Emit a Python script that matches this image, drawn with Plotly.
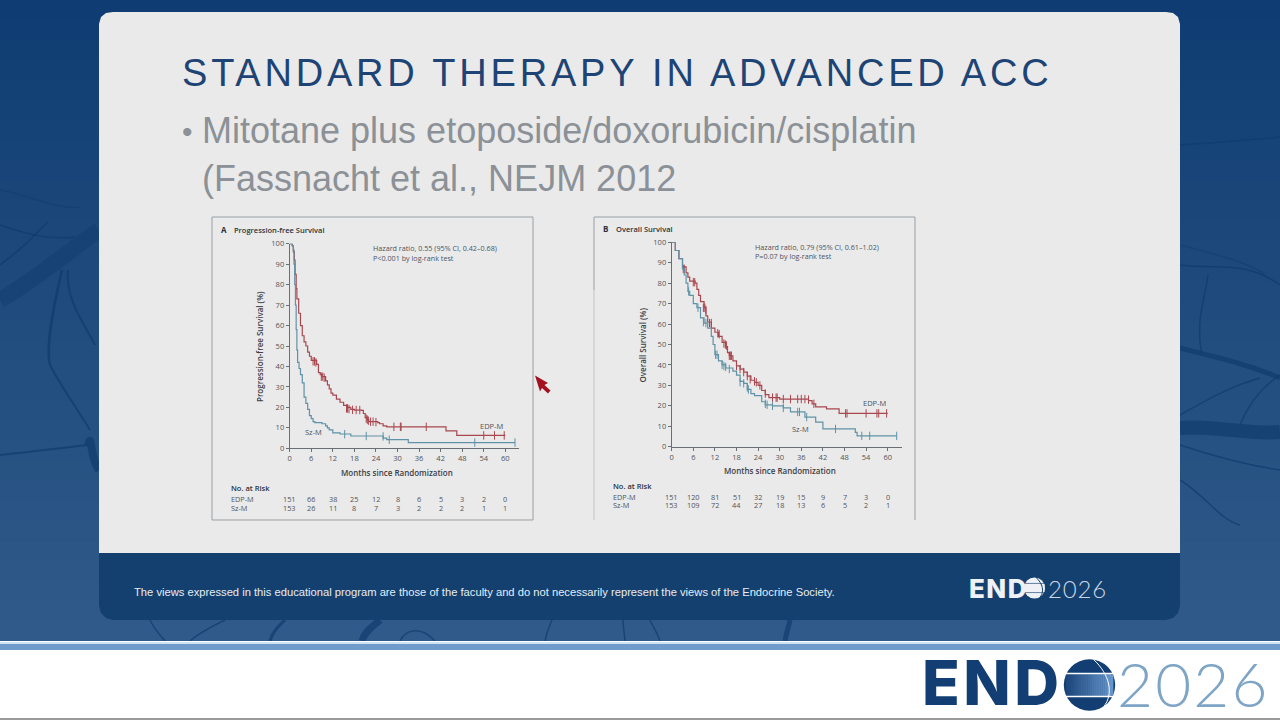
import math
import plotly.graph_objects as go

# ---------- slide text ----------
TITLE = "STANDARD THERAPY IN ADVANCED ACC"
BULLET_1 = "Mitotane plus etoposide/doxorubicin/cisplatin"
BULLET_2 = "(Fassnacht et al., NEJM 2012"
FOOTER = "The views expressed in this educational program are those of the faculty and do not necessarily represent the views of the Endocrine Society."

# ---------- Panel A: progression-free survival ----------
a_edp_t = [0, 0.7, 1, 1.3, 1.5, 1.8, 2, 2.5, 3, 3.5, 4, 4.5, 5, 5.5, 6, 7.5, 8, 8.5, 9, 10, 10.5, 11, 11.5, 12, 13, 14, 15, 16, 17, 18, 20, 20.5, 21, 21.5, 22, 24.5, 25, 26, 27, 43.5, 46.5, 60]
a_edp_s = [100, 99, 96, 92, 85, 78, 73, 66, 60, 55, 52, 50, 47, 45, 43, 41, 37, 36, 35, 33, 31, 29, 27, 26, 24, 22.5, 21, 20, 19, 18.7, 18.5, 17, 15, 14, 13, 12.5, 12, 11, 10.5, 8.5, 6.3, 6.3]
a_edp_ct = [6.5, 6.9, 7.3, 8.8, 9.2, 9.6, 15.8, 16.1, 16.5, 17.5, 18.5, 19.5, 21.3, 21.6, 21.9, 22.5, 23.2, 24, 29, 30.8, 31, 38, 54, 57, 59.7]
a_edp_cs = [42.5, 42.5, 42, 35, 35, 34.5, 19.5, 19.5, 19.2, 18.8, 18.7, 18.7, 14.5, 14, 13.5, 13, 13, 12.8, 10.5, 10.5, 10.5, 10.5, 6.3, 6.3, 6.3]
a_sz_t = [0, 0.7, 1, 1.2, 1.4, 1.6, 1.8, 2, 2.2, 2.6, 3, 3.5, 4, 4.5, 5, 5.5, 6, 6.5, 7, 9, 10, 10.5, 11, 12, 14, 17, 26, 27, 33, 62.7]
a_sz_s = [100, 99, 97, 90, 80, 70, 58, 48, 42, 39, 36, 32, 25, 22, 19, 16, 14.5, 13, 12.5, 12, 11, 10, 9, 7.5, 7, 6, 5, 4.2, 2.8, 2.8]
a_sz_ct = [15.3, 21.3, 26, 27.7, 51.5, 62.7]
a_sz_cs = [6.9, 6, 5.8, 4.2, 2.8, 2.8]

# ---------- Panel B: overall survival ----------
b_edp_t = [0, 1, 2, 3, 4, 4.5, 5, 6.5, 7, 7.5, 8, 9, 9.5, 10, 11, 12, 13, 14, 15, 15.5, 16, 17, 18, 19, 20, 21, 22, 23, 24, 25, 26, 27, 30, 38, 39, 40, 43, 46.5, 60]
b_edp_s = [100, 96, 92, 88, 85, 83, 81, 80, 77, 74, 71, 68, 64, 61, 58, 56, 54, 51, 49, 46, 44.5, 42, 39.5, 38, 36.5, 34.5, 32.5, 31.5, 30, 27.5, 25.5, 24, 23.3, 22.5, 21, 19.5, 18.5, 16.3, 16.3]
b_edp_ct = [3.2, 3.5, 6, 6.4, 8.8, 9.2, 9.5, 10.5, 11, 12.8, 13.2, 14.5, 14.9, 15.2, 16, 16.3, 16.6, 18, 19, 20, 21, 21.8, 23, 23.5, 24.5, 26, 28, 29, 29.3, 31, 33, 35, 36, 37, 38, 39.5, 48.3, 48.7, 54, 57, 57.5, 59.7]
b_edp_cs = [87, 87, 80.5, 80.5, 68, 68, 67, 60.5, 60.5, 55.5, 55, 50.5, 50, 49.5, 44.5, 44.5, 44.5, 39.5, 38, 36.5, 34.5, 33, 32, 31.5, 30, 26, 24, 24, 24, 23.3, 23.3, 23.3, 23.3, 23.3, 23, 21, 16.3, 16.3, 16.3, 16.3, 16.3, 16.3]
b_sz_t = [0, 1, 2, 3, 3.5, 4, 4.5, 5, 6, 7, 8, 9, 10, 11, 11.5, 12, 13, 14, 15, 17, 18, 19, 20, 21, 22, 23, 25, 26, 28, 31, 33, 37, 40, 42, 51, 51.5, 62.5]
b_sz_s = [100, 96, 92, 87, 84, 80, 76, 74, 70, 68, 63, 60.5, 58, 54, 50, 45, 42, 40, 38.5, 37, 35, 32, 31, 28, 26, 25, 22, 20.5, 20, 19, 17, 14.5, 12, 8.7, 7, 5.3, 5.3]
b_sz_ct = [4.7, 7.3, 8.8, 9.5, 12.2, 12.6, 14, 14.5, 15, 16, 19, 20, 21, 21.3, 26, 26.5, 28, 31, 35, 35.5, 37.5, 45.5, 52.8, 55, 62.5]
b_sz_cs = [76, 68, 61, 60.5, 45, 45, 40, 39.5, 39, 38, 31.5, 31, 29, 28, 21, 20.5, 20, 19, 17, 17, 14.5, 8.7, 5.3, 5.3, 5.3]

# ---------- axes and tables ----------
x_ticks = [0, 6, 12, 18, 24, 30, 36, 42, 48, 54, 60]
y_ticks = [0, 10, 20, 30, 40, 50, 60, 70, 80, 90, 100]
a_risk_edp = [151, 66, 38, 25, 12, 8, 6, 5, 3, 2, 0]
a_risk_sz = [153, 26, 11, 8, 7, 3, 2, 2, 2, 1, 1]
b_risk_edp = [151, 120, 81, 51, 32, 19, 15, 9, 7, 3, 0]
b_risk_sz = [153, 109, 72, 44, 27, 18, 13, 6, 5, 2, 1]

RED, BLUE, INK = "#a8474f", "#5f92a6", "#4f5459"
SMALL = "Open Sans"
W, H = 1280, 720
px = lambda v: v / W
py = lambda v: 1 - v / H

fig = go.Figure()
shapes, notes = [], []


def rect(x0, y0, x1, y1, color, layer="below"):
    shapes.append(dict(type="rect", xref="paper", yref="paper", x0=px(x0), x1=px(x1), y0=py(y1), y1=py(y0),
                       fillcolor=color, line=dict(width=0), layer=layer))


def path(points, color, width=1.5, closed=False, fill=None, layer="below"):
    d = "M " + " L ".join(f"{px(x):.5f},{py(y):.5f}" for x, y in points) + (" Z" if closed else "")
    shapes.append(dict(type="path", xref="paper", yref="paper", path=d, layer=layer,
                       line=dict(color=color, width=width), fillcolor=fill))


def curve(p0, c0, c1, p1, color, width):
    d = "M {:.5f},{:.5f} C {:.5f},{:.5f} {:.5f},{:.5f} {:.5f},{:.5f}".format(
        px(p0[0]), py(p0[1]), px(c0[0]), py(c0[1]), px(c1[0]), py(c1[1]), px(p1[0]), py(p1[1]))
    shapes.append(dict(type="path", xref="paper", yref="paper", path=d, layer="below",
                       line=dict(color=color, width=width)))


def note(x, y, text, size, color=INK, family=SMALL, anchor="left", weight=None, angle=None):
    # plotly pads a left-anchored annotation box by about 2 px
    xp = x - 2 if anchor == "left" else x
    notes.append(dict(x=px(xp), y=py(y), xref="paper", yref="paper", text=text, showarrow=False,
                      xanchor=anchor, yanchor="middle", textangle=angle, align=anchor,
                      font=dict(size=size, color=color, family=family, weight=weight)))


# vertical gradient of the slide background, as thin bands
STEPS = 32
for i in range(STEPS):
    f = i / (STEPS - 1)
    c = (round(15 + f * 33), round(61 + f * 29), round(115 + f * 22))
    rect(0, 641 * i / STEPS, W, 641 * (i + 1) / STEPS + 1, f"rgb{c}")

# nerve-like decoration behind the slide
dark = "rgba(16,58,108,0.7)"
soft = "rgba(16,58,108,0.4)"
for p0, c0, c1, p1, col, wd in [
    ((0, 300), (35, 280), (70, 250), (99, 230), soft, 16),
    ((0, 190), (30, 195), (55, 210), (80, 207), soft, 1.5),
    ((0, 225), (30, 235), (50, 240), (75, 237), dark, 1.5),
    ((0, 265), (20, 250), (30, 240), (48, 222), dark, 1.5),
    ((62, 270), (55, 300), (45, 345), (50, 365), dark, 2.5),
    ((50, 365), (60, 385), (75, 405), (90, 430), dark, 2),
    ((68, 270), (65, 300), (85, 325), (95, 345), dark, 2),
    ((0, 455), (30, 452), (60, 448), (88, 445), dark, 2),
    ((88, 445), (92, 430), (90, 460), (99, 470), dark, 8),
    ((1180, 145), (1210, 143), (1250, 140), (1280, 137), dark, 1.5),
    ((1180, 265), (1220, 270), (1245, 260), (1280, 285), dark, 1.5),
    ((1180, 245), (1220, 255), (1255, 265), (1265, 275), soft, 1.5),
    ((1202, 355), (1195, 320), (1205, 300), (1208, 275), dark, 1.5),
    ((1180, 348), (1220, 358), (1250, 365), (1280, 378), dark, 5),
    ((1180, 428), (1215, 425), (1250, 435), (1280, 432), dark, 14),
    ((1180, 445), (1210, 455), (1245, 465), (1280, 470), dark, 1.5),
    ((1180, 480), (1205, 495), (1220, 520), (1240, 525), dark, 1.5),
    ((1180, 415), (1215, 395), (1235, 385), (1260, 378), dark, 1.5),
    ((1240, 425), (1250, 400), (1265, 385), (1280, 375), dark, 1.5),
    ((150, 620), (155, 630), (160, 635), (165, 641), dark, 1.5),
    ((190, 641), (200, 632), (215, 625), (225, 620), dark, 1.5),
    ((270, 641), (273, 630), (280, 625), (285, 620), dark, 3),
    ((362, 641), (365, 630), (375, 625), (380, 620), dark, 7),
    ((400, 641), (405, 630), (420, 625), (435, 641), dark, 1.5),
    ((545, 641), (547, 630), (550, 625), (552, 620), dark, 1.5),
    ((625, 641), (624, 630), (623, 625), (623, 620), dark, 1.5),
    ((660, 641), (656, 630), (652, 625), (650, 620), dark, 1.5),
    ((785, 641), (787, 630), (789, 625), (790, 620), dark, 5),
]:
    curve(p0, c0, c1, p1, col, wd)

# slide panel with rounded top corners, footer with rounded bottom corners
path([(99, 553), (99, 24), (101, 17), (106, 13), (113, 12), (1166, 12), (1173, 13), (1178, 17), (1180, 24), (1180, 553)],
     "#eaeaeb", 0, True, "#eaeaeb")
path([(99, 553), (1180, 553), (1180, 606), (1178, 613), (1173, 618), (1166, 620), (113, 620), (106, 618), (101, 613), (99, 606)],
     "#14406f", 0, True, "#14406f")

# lower white band and stripes
rect(0, 641, W, 720, "#ffffff")
rect(0, 642, W, 644, "#cfe3f2")
rect(0, 644, W, 650, "#6f9ccb")
rect(0, 718, W, 720, "#9a9a9a")

# chart frames
path([(212, 520), (212, 217), (533, 217), (533, 520), (212, 520)], "#9aa0a5", 1)
path([(594, 290), (594, 217), (915, 217), (915, 520)], "#9aa0a5", 1)
path([(594, 290), (594, 520)], "#c3c5c8", 1)

# presenter's mouse pointer
path([(535, 375.5), (548, 383), (544.5, 385), (550.5, 390.5), (548, 393.5), (542, 388), (540, 391.5)],
     "#a5101f", 0, True, "#a5101f", layer="above")

# the two charts
PANELS = [
    dict(suffix="", x0=289.7, x60=505.3, y100=243.7, y0=448.3, title="A", head="Progression-free Survival",
         fx=221, hx=233.5, hy=230, ylab="Progression-free Survival (%)", ylx=259, hr="Hazard ratio, 0.55 (95% CI, 0.42–0.68)",
         p="P&lt;0.001 by log-rank test", hrx=372.5, hry=248, py=258.5,
         edp=(a_edp_t, a_edp_s, a_edp_ct, a_edp_cs), sz=(a_sz_t, a_sz_s, a_sz_ct, a_sz_cs),
         risk=(a_risk_edp, a_risk_sz), edp_lab=(491.5, 425.5), sz_lab=(313, 432)),
    dict(suffix="2", x0=671.7, x60=887.7, y100=242.3, y0=446.7, title="B", head="Overall Survival",
         fx=603, hx=615.5, hy=228.5, ylab="Overall Survival (%)", ylx=642, hr="Hazard ratio, 0.79 (95% CI, 0.61–1.02)",
         p="P=0.07 by log-rank test", hrx=754.5, hry=246.5, py=256.5,
         edp=(b_edp_t, b_edp_s, b_edp_ct, b_edp_cs), sz=(b_sz_t, b_sz_s, b_sz_ct, b_sz_cs),
         risk=(b_risk_edp, b_risk_sz), edp_lab=(874.5, 403), sz_lab=(800.5, 429)),
]
for k, P in enumerate(PANELS):
    s = P["suffix"]
    per_month = (P["x60"] - P["x0"]) / 60
    xend = P["x0"] + 63.9 * per_month
    axis_font = dict(size=7.5, color=INK, family=SMALL)
    fig.update_layout(**{
        f"xaxis{s}": dict(domain=[px(P["x0"]), px(xend)], range=[0, 63.9], tickvals=x_ticks, ticks="outside", ticklen=3,
                          tickwidth=1, tickcolor="#6a6f75", showgrid=False, zeroline=False, showline=True, linecolor="#6a6f75",
                          linewidth=1, tickfont=axis_font, anchor=f"y{s}"),
        f"yaxis{s}": dict(domain=[py(P["y0"]), py(P["y100"])], range=[0, 100], tickvals=y_ticks, ticks="outside", ticklen=3,
                          tickwidth=1, tickcolor="#6a6f75", showgrid=False, zeroline=False, showline=True, linecolor="#6a6f75",
                          linewidth=1, tickfont=axis_font, anchor=f"x{s}"),
    })
    for name, col, key in (("EDP-M", RED, "edp"), ("Sz-M", BLUE, "sz")):
        t, v, ct, cv = P[key]
        fig.add_trace(go.Scatter(x=t, y=v, mode="lines", name=name, line=dict(color=col, width=1.2, shape="hv"),
                                 xaxis=f"x{s}", yaxis=f"y{s}", showlegend=False))
        fig.add_trace(go.Scatter(x=ct, y=cv, mode="markers", name=name + " censored",
                                 marker=dict(symbol="line-ns", size=6, line=dict(color=col, width=1)),
                                 xaxis=f"x{s}", yaxis=f"y{s}", showlegend=False))
    note(P["fx"], P["hy"], P["title"], 8, "#2d3238", weight=700)
    note(P["hx"], P["hy"], P["head"], 7.5, "#2d3238", weight=600)
    note(P["ylx"], (P["y0"] + P["y100"]) / 2 + 1, P["ylab"], 8, "#3b4046", anchor="center", angle=-90, weight=600)
    note((P["x0"] + P["x60"]) / 2 - 0.5 if k == 0 else (P["x0"] + P["x60"]) / 2 + 0.5, 472 if k == 0 else 470.5,
         "Months since Randomization", 8, "#3b4046", anchor="center", weight=600)
    note(P["hrx"], P["hry"], P["hr"], 7.2)
    note(P["hrx"], P["py"], P["p"], 7.2)
    note(*P["edp_lab"], "EDP-M", 7.5, anchor="center")
    note(*P["sz_lab"], "Sz-M", 7.5, anchor="center")
    lx = 230.5 if k == 0 else 612.5
    ry = 488 if k == 0 else 486
    note(lx, ry, "No. at Risk", 7.5, "#2d3238", weight=600)
    note(lx, ry + 10.5, "EDP-M", 7.3)
    note(lx, ry + 19.5, "Sz-M", 7.3)
    for m, e, z in zip(x_ticks, *P["risk"]):
        xp = P["x0"] + m * per_month
        note(xp, ry + 10.5, str(e), 7.3, anchor="center")
        note(xp, ry + 19.5, str(z), 7.3, anchor="center")

# slide texts
note(182, 73, TITLE, 38, "#1d4474", "Liberation Sans")
note(182, 131, "•", 30, "#8b9196", "Liberation Sans")
note(202, 130, BULLET_1, 36, "#8b9196", "Liberation Sans")
note(202, 178, BULLET_2, 36, "#8b9196", "Liberation Sans")
note(134, 592, FOOTER, 11.2, "#e6edf4", "Liberation Sans")


def logo(x_end, x_year, cy, size, size_year, gx, gy, r, c_end, c_year, c_globe, mid_l, mid_r, bg):
    note(x_end, cy, "END", size, c_end, "Inter", weight=800)
    note(x_year, cy, "2026", size_year, c_year, "Lato", weight=300)
    shapes.append(dict(type="circle", xref="paper", yref="paper", x0=px(gx - r), x1=px(gx + r), y0=py(gy + r), y1=py(gy - r),
                       fillcolor=c_globe, line=dict(width=0), layer="below"))
    n = 24
    for i in range(n):
        a, b = gx - r + 2 * r * i / n, gx - r + 2 * r * (i + 1) / n
        dx = max(abs(a - gx), abs(b - gx))
        half = min(r * 0.44, math.sqrt(max(r * r - dx * dx, 0)))
        f = i / (n - 1)
        col = "rgb({},{},{})".format(*(round(l + (q - l) * f) for l, q in zip(mid_l, mid_r)))
        rect(a, gy - half, b + 0.3, gy + half, col)
    rect(gx - r, gy - r * 0.48, gx + r, gy - r * 0.42, bg)
    rect(gx - r, gy + r * 0.42, gx + r, gy + r * 0.48, bg)
    curve((gx + r * 0.15, gy - r), (gx + r * 0.8, gy - r * 0.4), (gx + r * 0.95, gy + r * 0.35), (gx + r * 0.55, gy + r * 0.85), bg, 1)


logo(922, 1117, 682.5, 62, 62, 1089.5, 685, 25.7, "#123e73", "#7ea4c6", "#123e73", (26, 68, 120), (106, 154, 208), "#ffffff")
logo(969, 1048, 588, 26, 24, 1034.5, 588, 10.5, "#eef2f6", "#c8d6e4", "#eef2f6", (238, 242, 246), (238, 242, 246), "#14406f")

fig.update_layout(width=W, height=H, margin=dict(l=0, r=0, t=0, b=0, autoexpand=False), paper_bgcolor="#ffffff",
                  plot_bgcolor="rgba(0,0,0,0)", shapes=shapes, annotations=notes, showlegend=False)

post = """
document.body.style.margin='0';document.body.style.overflow='hidden';
document.querySelectorAll('.annotation-text').forEach(function(t){
  var c=t.textContent;
  if(c.indexOf('STANDARD THERAPY')===0){t.style.letterSpacing='3.8px';}
  if(c==='END'){t.style.letterSpacing='0.056em';}
  if(c==='2026'){t.style.letterSpacing='0.035em';}
});
"""
fig.write_html("out.html", post_script=post, config={"displayModeBar": False})
